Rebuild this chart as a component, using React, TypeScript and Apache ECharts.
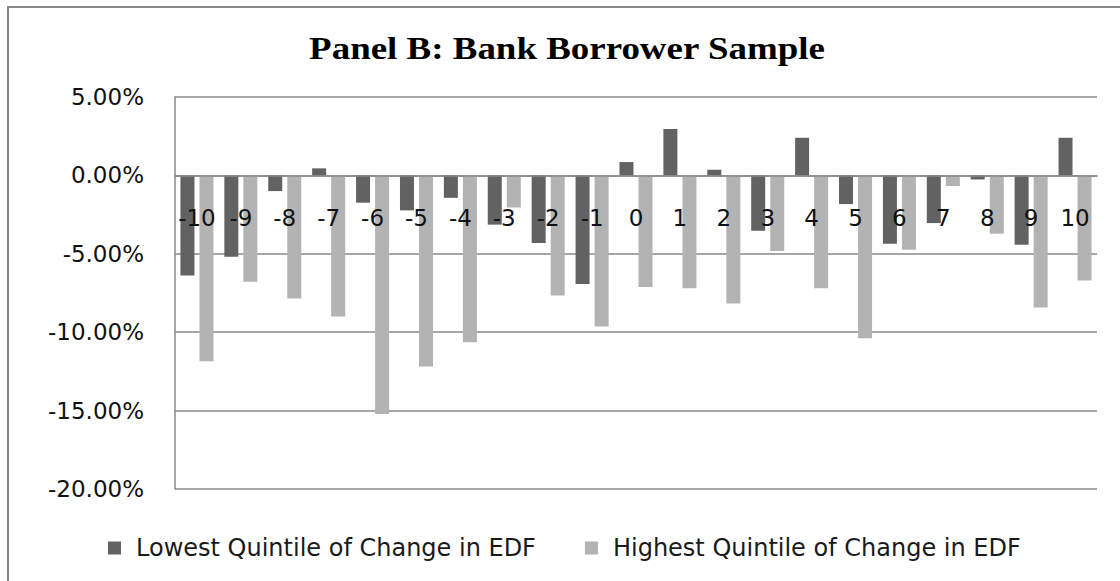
import React, { useEffect, useRef } from "react";
import * as echarts from "echarts";

const titleText = "Panel B: Bank Borrower Sample";
const categories = ["-10", "-9", "-8", "-7", "-6", "-5", "-4", "-3", "-2", "-1", "0", "1", "2", "3", "4", "5", "6", "7", "8", "9", "10"];
const lowestName = "Lowest Quintile of Change in EDF";
const highestName = "Highest Quintile of Change in EDF";
const lowest = [-6.39, -5.19, -1.0, 0.45, -1.74, -2.23, -1.43, -3.14, -4.31, -6.93, 0.85, 2.96, 0.36, -3.53, 2.4, -1.83, -4.36, -3.04, -0.26, -4.42, 2.4];
const highest = [-11.85, -6.79, -7.85, -9.0, -15.21, -12.19, -10.64, -2.05, -7.66, -9.64, -7.11, -7.19, -8.17, -4.82, -7.19, -10.38, -4.74, -0.68, -3.72, -8.42, -6.7];
const yMin = -20;
const yMax = 5;
const yInterval = 5;

export default function App() {
  const ref = useRef<HTMLDivElement>(null);
  useEffect(() => {
    if (!ref.current) return;
    const chart = echarts.init(ref.current, undefined, { renderer: "svg" });
    const axisFont = { fontFamily: "DejaVu Sans", fontSize: 23, color: "#111" };
    const gridTop = 97;
    const gridHeight = 392;
    // distance from grid bottom up to the zero line, derived from the axis range
    const zeroOffset = -gridHeight * ((0 - yMin) / (yMax - yMin));
    chart.setOption({
      animation: false,
      backgroundColor: "#fff",
      graphic: [
        {
          type: "rect",
          shape: { x: 8, y: 7, width: 1200, height: 700 },
          style: { fill: "none", stroke: "#878787", lineWidth: 2 },
          z: 0,
        },
        {
          type: "text",
          x: 567,
          y: 48,
          scaleX: 1.155,
          style: {
            text: titleText,
            font: 'bold 32px "Liberation Serif", "Times New Roman", serif',
            fill: "#000",
            textAlign: "center",
            textVerticalAlign: "middle",
          },
          z: 10,
        },
      ],
      legend: {
        left: 103,
        top: 531,
        icon: "rect",
        itemWidth: 13,
        itemHeight: 13,
        itemGap: 49,
        textStyle: { fontFamily: "DejaVu Sans", fontSize: 24, color: "#1a1a1a", padding: [0, 0, 0, 10] },
        data: [lowestName, highestName],
      },
      grid: { left: 175, top: gridTop, width: 922, height: gridHeight, containLabel: false },
      xAxis: {
        type: "category",
        data: categories,
        z: 10,
        offset: zeroOffset,
        axisLine: { onZero: false, lineStyle: { color: "#8a8a8a", width: 1.5 } },
        axisTick: { show: false },
        axisLabel: { ...axisFont, margin: 31, interval: 0 },
        splitLine: { show: false },
      },
      yAxis: {
        type: "value",
        min: yMin,
        max: yMax,
        interval: yInterval,
        axisLine: { show: true, lineStyle: { color: "#8a8a8a", width: 1.5 } },
        axisTick: { show: false },
        axisLabel: { ...axisFont, margin: 31, formatter: (v: number) => v.toFixed(2) + "%" },
        splitLine: { show: true, lineStyle: { color: "#8a8a8a", width: 1.5 } },
      },
      series: [
        {
          name: lowestName,
          type: "bar",
          data: lowest,
          barWidth: 14,
          barGap: "36%",
          itemStyle: { color: "#626262" },
        },
        {
          name: highestName,
          type: "bar",
          data: highest,
          barWidth: 14,
          barGap: "36%",
          itemStyle: { color: "#b3b3b3" },
        },
      ],
    });
    return () => chart.dispose();
  }, []);
  return (
    <div
      ref={ref}
      style={{ position: "fixed", left: 0, top: 0, width: 1120, height: 581, background: "#fff" }}
    />
  );
}
